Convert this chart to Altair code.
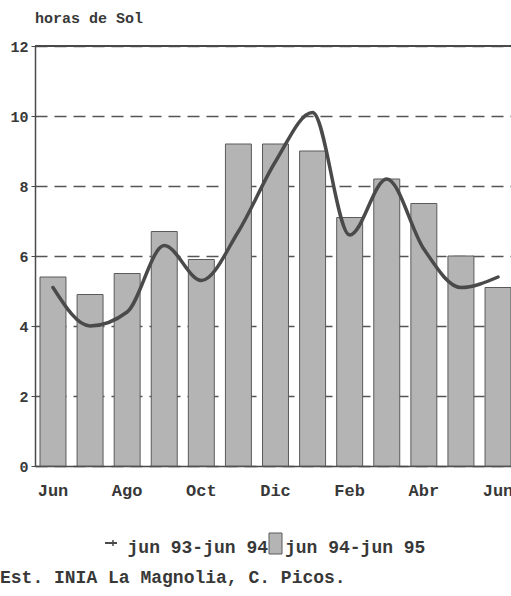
import altair as alt
import pandas as pd

months = ["Jun", "Jul", "Ago", "Sep", "Oct", "Nov", "Dic", "Ene", "Feb", "Mar", "Abr", "May", "Jun"]
bars_9495 = [5.4, 4.9, 5.5, 6.7, 5.9, 9.2, 9.2, 9.0, 7.1, 8.2, 7.5, 6.0, 5.1]
line_9394 = [5.1, 4.0, 4.4, 6.3, 5.3, 6.7, 8.7, 10.1, 6.6, 8.2, 6.2, 5.1, 5.4]
y_ticks = [0, 2, 4, 6, 8, 10, 12]
series_names = ["jun 93-jun 94", "jun 94-jun 95"]
footer_text = "Est. INIA La Magnolia, C. Picos."
y_title = "horas de Sol"

keys = [f"{i:02d}-{m}" for i, m in enumerate(months)]
df = pd.DataFrame({"key": keys, "bar": bars_9495, "line": line_9394})

FONT = "Liberation Mono"
DARK = "#4a4a4a"
BARFILL = "#b4b4b4"
TXT = "#383838"

xscale = alt.Scale(domain=keys, paddingInner=0.3, paddingOuter=0.135, range=[0, 481])
yscale = alt.Scale(domain=[0, 12], nice=False)

x_enc = alt.X(
    "key:N",
    scale=xscale,
    sort=keys,
    axis=alt.Axis(
        title=None,
        values=keys[::2],
        labelExpr="split(datum.value, '-')[1]",
        ticks=False,
        labelPadding=16,
        labelAngle=0,
        labelFont=FONT,
        labelFontSize=17,
        labelFontWeight="bold",
        labelColor=TXT,
        domainColor=DARK,
        domainWidth=1.5,
        grid=False,
    ),
)

bars = alt.Chart(df).mark_bar(fill=BARFILL, stroke="#5a5a5a", strokeWidth=1).encode(
    x=x_enc,
    y=alt.Y(
        "bar:Q",
        scale=yscale,
        axis=alt.Axis(
            title=None,
            values=y_ticks,
            tickSize=4,
            tickColor=DARK,
            labelPadding=3,
            labelFont=FONT,
            labelFontSize=15,
            labelFontWeight="bold",
            labelColor=TXT,
            domainColor=DARK,
            domainWidth=1.5,
            grid=True,
            gridColor="#555",
            gridWidth=1.3,
            gridDash=[12, 7],
        ),
    ),
)

line = alt.Chart(df).mark_line(
    color=DARK, strokeWidth=3.5, interpolate="monotone", strokeCap="round"
).encode(x=alt.X("key:N", scale=xscale, sort=keys), y=alt.Y("line:Q", scale=yscale))

top_border = alt.Chart(df).mark_rule(color=DARK, strokeWidth=1.5).encode(
    x=alt.value(0), x2=alt.value(481), y=alt.value(0)
)

leg_df = pd.DataFrame({"name": series_names})
leg_line = alt.Chart(leg_df.iloc[[0]]).mark_rule(color=DARK, strokeWidth=2).encode(
    x=alt.value(70), x2=alt.value(82), y=alt.value(497)
)
leg_tick = alt.Chart(leg_df.iloc[[0]]).mark_rule(color=DARK, strokeWidth=1.5).encode(
    x=alt.value(78), y=alt.value(494), y2=alt.value(500)
)
leg_text1 = alt.Chart(leg_df.iloc[[0]]).mark_text(
    align="right", baseline="middle", font=FONT, fontSize=18, fontWeight="bold", color=TXT
).encode(text="name:N", x=alt.value(233), y=alt.value(502))
leg_box = alt.Chart(leg_df.iloc[[1]]).mark_rect(fill=BARFILL, stroke="#5a5a5a", strokeWidth=1).encode(
    x=alt.value(234), x2=alt.value(247), y=alt.value(487), y2=alt.value(508)
)
leg_text2 = alt.Chart(leg_df.iloc[[1]]).mark_text(
    align="left", baseline="middle", font=FONT, fontSize=18, fontWeight="bold", color=TXT
).encode(text="name:N", x=alt.value(250), y=alt.value(502))

foot_df = pd.DataFrame({"t": [footer_text]})
footer = alt.Chart(foot_df).mark_text(
    align="left", baseline="middle", font=FONT, fontSize=18, fontWeight="bold", color=TXT
).encode(text="t:N", x=alt.value(-35), y=alt.value(532))

chart = (
    alt.layer(bars, line, top_border, leg_line, leg_tick, leg_text1, leg_box, leg_text2, footer)
    .properties(
        width=476,
        height=420,
        title=alt.TitleParams(
            y_title, anchor="start", frame="group", offset=13,
            font=FONT, fontSize=15, fontWeight="bold", color=TXT,
        ),
        autosize=alt.AutoSizeParams(type="none"),
        padding={"left": 35, "top": 46, "right": 0, "bottom": 130},
    )
    .configure_view(stroke=None)
    .configure(background="white")
)

chart.save("out.html", embed_options={"renderer": "svg", "actions": False})
